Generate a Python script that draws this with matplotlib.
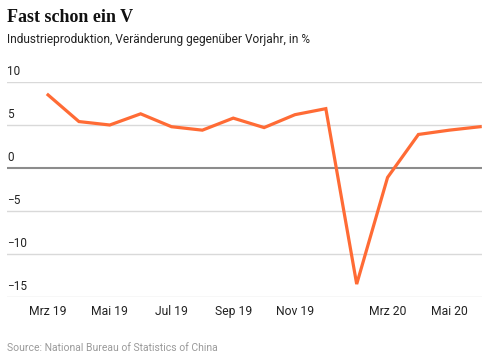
import matplotlib
matplotlib.use("Agg")
import matplotlib.pyplot as plt

# ── data ─────────────────────────────────────────────────────────────────────
months = ["Mrz 19", "Apr 19", "Mai 19", "Jun 19", "Jul 19", "Aug 19",
          "Sep 19", "Okt 19", "Nov 19", "Dez 19", "Jan/Feb 20",
          "Mrz 20", "Apr 20", "Mai 20", "Jun 20"]
growth = [8.5, 5.4, 5.0, 6.3, 4.8, 4.4, 5.8, 4.7, 6.2, 6.9, -13.5,
          -1.1, 3.9, 4.4, 4.8]
xtick_idx = [0, 2, 4, 6, 8, 11, 13]
yticks = [10, 5, 0, -5, -10, -15]

ORANGE = "#FF6B35"
GRID = "#d9d9d9"
TEXT = "#222222"

fig = plt.figure(figsize=(4.82, 3.6), dpi=100)
ax = fig.add_axes([7 / 482, 63 / 360, 475 / 482, 215 / 360])

x = list(range(len(growth)))
ax.plot(x, growth, color=ORANGE, lw=2.3, solid_joinstyle="miter",
        clip_on=False, zorder=3)

ax.set_xlim(-1.33, 14.06)
ax.set_ylim(-15, 10)

# gridlines with labels sitting above them
for v in yticks:
    if v == 0:
        ax.axhline(v, color="#8c8c8c", lw=1.5, zorder=1)
    else:
        ax.axhline(v, color=GRID, lw=1.0, zorder=1)
    lab = f"{v}".replace("-", "\u2212")
    ax.annotate(lab, xy=(0, v), xycoords=("axes fraction", "data"),
                xytext=(0, 3), textcoords="offset points",
                ha="left", va="bottom", fontsize=8.5, color=TEXT,
                family="Roboto")

ax.set_xticks(xtick_idx)
ax.set_xticklabels([months[i] for i in xtick_idx], fontsize=8.7,
                   color=TEXT, family="Roboto")
ax.tick_params(axis="x", length=0, pad=6)
ax.set_yticks([])
for s in ax.spines.values():
    s.set_visible(False)

fig.text(7 / 482, 1 - 17 / 360, "Fast schon ein V", fontsize=13,
         fontweight="bold", family="Liberation Serif", color="#111111",
         ha="left", va="center")
fig.text(7 / 482, 1 - 40 / 360,
         "Industrieproduktion, Veränderung gegenüber Vorjahr, in %",
         fontsize=8.6, family="Roboto", color=TEXT, ha="left", va="center")
fig.text(7 / 482, 1 - 348 / 360,
         "Source: National Bureau of Statistics of China",
         fontsize=7.5, family="Roboto", color="#9a9a9a", ha="left",
         va="center")

fig.savefig("out.png", dpi=100)
